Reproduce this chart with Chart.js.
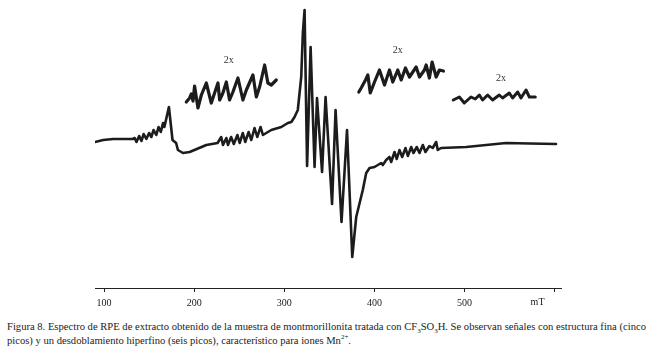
<!DOCTYPE html>
<html>
<head>
<meta charset="utf-8">
<script src="https://cdn.jsdelivr.net/npm/chart.js@4/dist/chart.umd.min.js"></script>
<style>
  html, body { margin: 0; padding: 0; background: #fff; }
  #wrap { position: absolute; left: 0; top: 0; width: 660px; height: 314px; }
  #caption { position: absolute; left: 7px; top: 320px; width: 653px; white-space: nowrap;
    font-family: "Liberation Serif", "DejaVu Serif", serif; font-size: 10.6px; line-height: 14px; color: #222; }
  sub, sup { font-size: 7px; line-height: 0; }
</style>
</head>
<body>
<div id="wrap"><canvas id="c" width="660" height="314"></canvas></div>
<div id="caption">Figura 8. Espectro de RPE de extracto obtenido de la muestra de montmorillonita tratada con CF<sub>3</sub>SO<sub>3</sub>H. Se observan señales con estructura fina (cinco<br>picos) y un desdoblamiento hiperfino (seis picos), característico para iones Mn<sup>2+</sup>.</div>
<script>
// Magnetic field (mT) and intensity (arbitrary units)
const mainField = [90, 99, 110, 132, 134, 136, 139, 141.5, 144, 147, 150, 152.5, 155, 158, 160.5, 163, 165.5, 167, 172, 176, 180, 182, 187.6, 195, 213.5, 226,
  228, 230, 232, 235.7, 237.5, 241, 244, 248, 250.5, 254, 256.7, 260.4, 263.4, 267, 270, 273.7, 276.3, 285.6, 296.7, 304, 307.8, 311.4, 315, 318.8, 320.6, 322.5,
  325.3, 329.2, 333.6, 336.3, 341.9, 345.8, 353, 356.9, 363.5, 369.6, 375.4, 379.8, 387.1, 390.9, 394.6, 400.1, 407.5, 409.3, 413,
  416.7, 418.6, 422.3, 424.8, 427.8, 430.8, 434.5, 437.1, 440.8, 443.3, 447, 450, 453.7, 456.6, 461, 464.7, 468.5, 470.3, 474,
  501.8, 535, 546, 572, 601.5];
const mainIntensity = [3, 5, 6, 6, 7, 3, 9, 4, 11, 6, 12, 8, 15, 10, 18, 13, 22, 18, 38, 5, 2, -5, -8, -7, 0, 2,
  5, 8, 0, 7, 0, 8, 1, 10, 2, 12, 3, 13, 5, 17, 8, 18, 10, 15, 18, 22, 23, 28, 35, 68, 112, 135,
  -21, 98, -22, 47, -27, 48, -59, 35, -77, 15, -112, -72, -45, -28, -23, -22, -18, -20, -15,
  -12, -17, -7, -14, -5, -12, -3, -11, -2, -8, -2, -8, 0, -7, -1, -3, 3, -5, -3,
  -2, 1, 2, 1.5, 1];

// 2x expanded segments (shown offset above the spectrum)
const inset1Field = [191.3, 195, 196.9, 198.7, 200.5, 204.2, 208, 213.5, 219, 222.7, 226.4, 228.3, 231.9, 235.7, 239.3, 243, 248.6, 254.1, 257.9, 265.2, 269, 272.6, 278.2, 281.8, 285.6, 291.1];
const inset1Intensity = [43, 47, 51, 44, 59, 37, 50, 62, 42, 52, 62, 45, 52, 63, 45, 53, 67, 45, 55, 70, 48, 58, 80, 62, 60, 65];
const inset2Field = [382.7, 385.3, 390.1, 392.7, 395.4, 400.1, 405.6, 411.2, 416.7, 420.4, 425.9, 429.7, 434.4, 438.9, 446.3, 450, 455.5, 457.4, 461, 464, 468.5, 472.1, 476.6];
const inset2Intensity = [53, 57, 65, 70, 52, 63, 75, 60, 75, 63, 75, 65, 77, 68, 78, 68, 75, 80, 67, 83, 68, 75, 74];
const inset3Field = [487.5, 494.2, 499.7, 507.1, 511.9, 516.4, 520, 525.6, 531.1, 538.5, 542.2, 549.6, 553.3, 558.9, 562.6, 568.2, 571.9, 578.5];
const inset3Intensity = [45, 48, 42, 48, 46, 50, 45, 50, 45, 50, 47, 52, 47, 53, 47, 55, 48, 48];

const tickValues = [100, 200, 300, 400, 500, 600];
const tickLabels = ['100', '200', '300', '400', '500', ''];
const unitLabel = 'mT';
const unitLabelField = 581;
const insetLabels = ['2x', '2x', '2x'];
const insetLabelField = [238.5, 426, 540.5];
const insetLabelIntensity = [85, 95, 67];

const toXY = (xs, ys) => xs.map((x, i) => ({ x: x, y: ys[i] }));
const ink = '#1c1c1c';
const serif = '"Liberation Serif", "DejaVu Serif", serif';

const textPlugin = {
  id: 'texts',
  afterDatasetsDraw(chart) {
    const { ctx, scales } = chart;
    ctx.save();
    ctx.fillStyle = '#333';
    ctx.font = '10px ' + serif;
    ctx.textAlign = 'center';
    ctx.textBaseline = 'middle';
    insetLabels.forEach((t, i) => {
      ctx.fillText(t, scales.x.getPixelForValue(insetLabelField[i]), scales.y.getPixelForValue(insetLabelIntensity[i]));
    });
    ctx.fillStyle = '#222';
    ctx.fillText(unitLabel, scales.x.getPixelForValue(unitLabelField), scales.x.top + 14);
    ctx.restore();
  }
};

new Chart(document.getElementById('c'), {
  type: 'line',
  data: {
    datasets: [
      { data: toXY(mainField, mainIntensity), borderColor: ink, borderWidth: 2.6 },
      { data: toXY(inset1Field, inset1Intensity), borderColor: ink, borderWidth: 3.2 },
      { data: toXY(inset2Field, inset2Intensity), borderColor: ink, borderWidth: 3.2 },
      { data: toXY(inset3Field, inset3Intensity), borderColor: ink, borderWidth: 3 }
    ]
  },
  options: {
    responsive: false,
    animation: false,
    events: [],
    layout: { padding: { left: 95, right: 99, top: 5, bottom: 0 } },
    elements: { point: { radius: 0 }, line: { tension: 0, borderJoinStyle: 'round', borderCapStyle: 'round' } },
    plugins: { legend: { display: false }, tooltip: { enabled: false } },
    scales: {
      x: {
        type: 'linear', min: 90, max: 607,
        afterBuildTicks: (scale) => { scale.ticks = tickValues.map(v => ({ value: v })); },
        ticks: {
          autoSkip: false, maxRotation: 0, padding: 5, color: '#222',
          font: { family: serif, size: 10 },
          callback: (v) => tickLabels[tickValues.indexOf(v)] ?? ''
        },
        grid: { drawOnChartArea: false, drawTicks: true, tickLength: 4, color: '#222', tickWidth: 1 },
        border: { display: true, color: '#222', width: 1 }
      },
      y: { display: false, min: -143, max: 140 }
    }
  },
  plugins: [textPlugin]
});
</script>
</body>
</html>
